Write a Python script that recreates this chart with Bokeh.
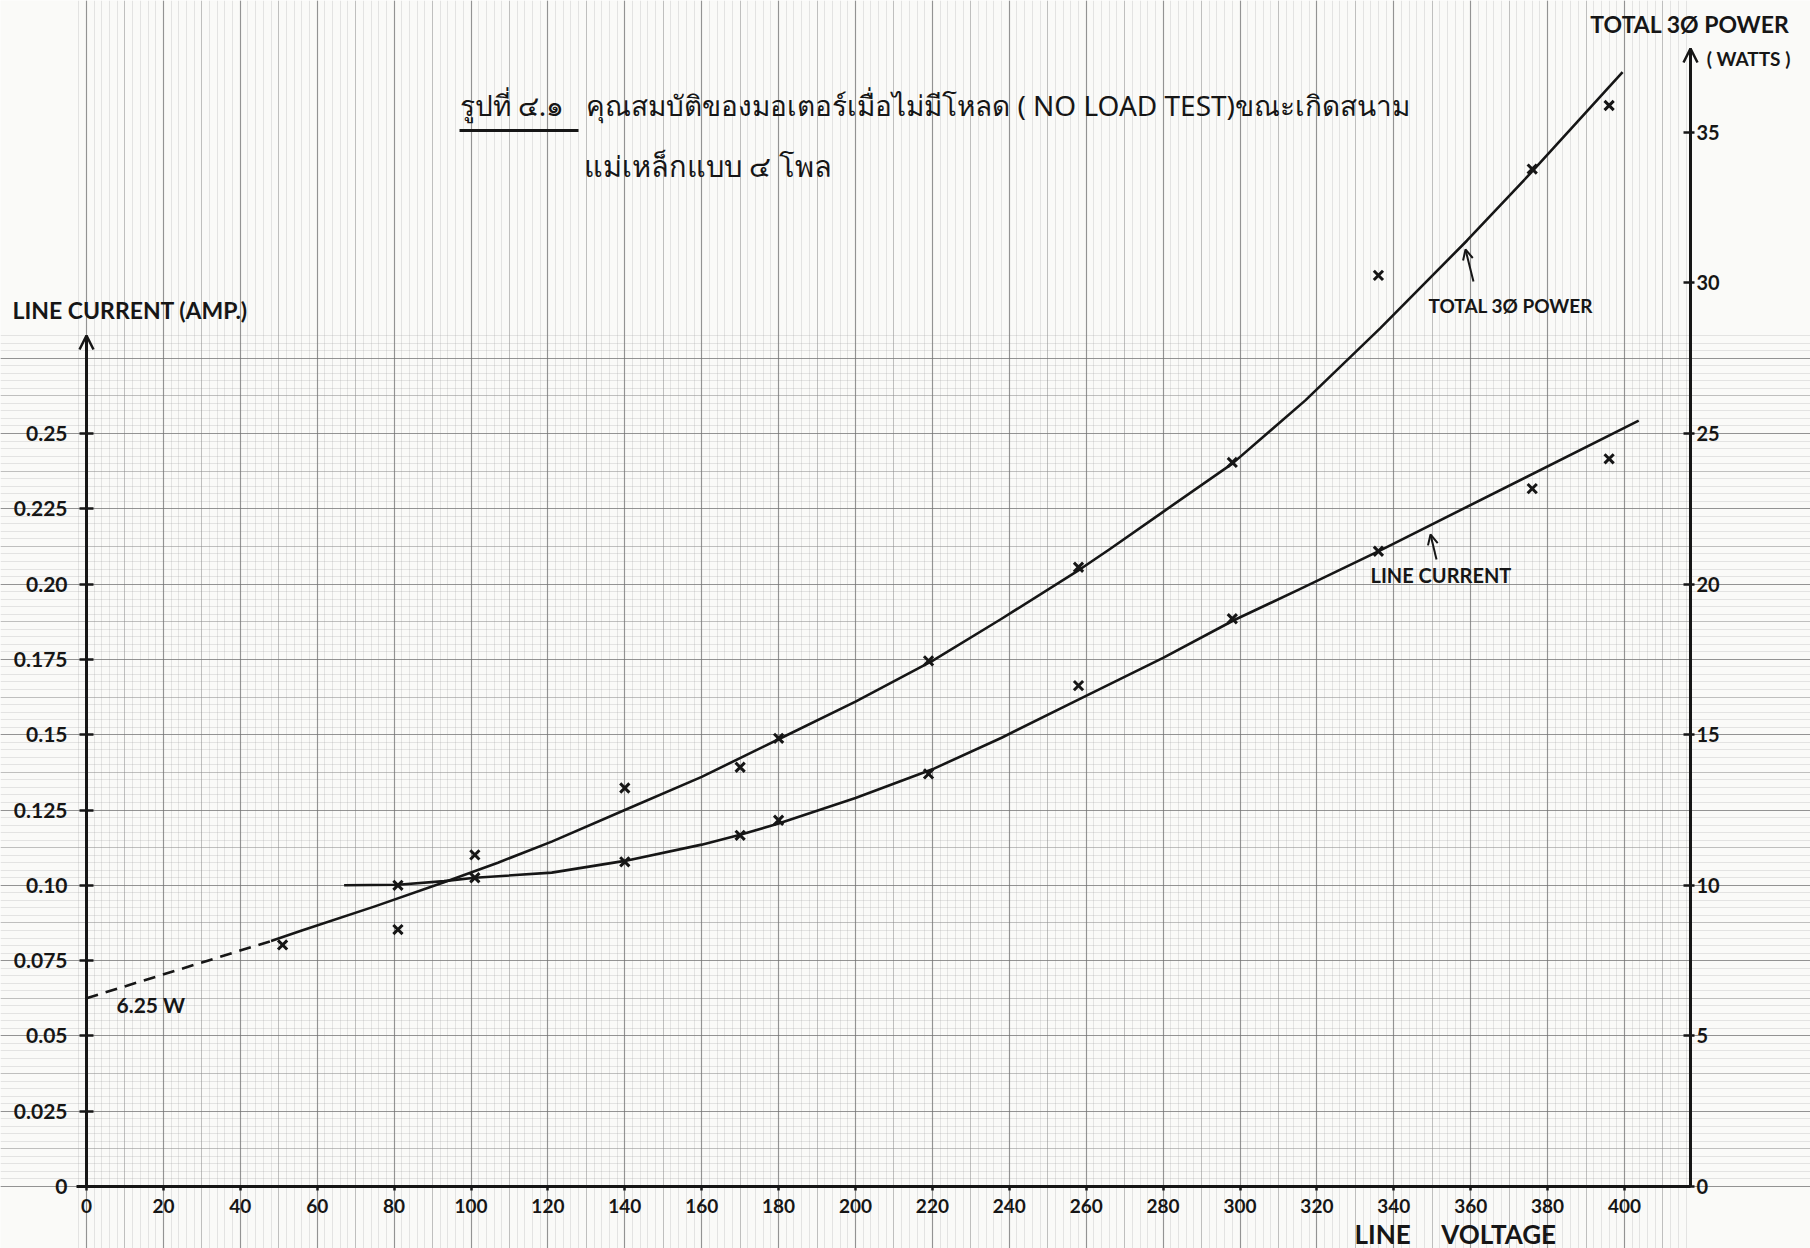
from bokeh.plotting import figure
from bokeh.models import (Range1d, LinearAxis, FixedTicker, SingleIntervalTicker, Grid,
                          Label, Arrow, OpenHead)
from bokeh.embed import file_html
from bokeh.resources import INLINE

# ---- measured data: no-load test, 4-pole field ----
volts = [51, 81, 101, 140, 170, 180, 219, 258, 298, 336, 376, 396]
line_current = [None, 0.100, 0.1025, 0.1078, 0.1166, 0.1216, 0.1370, 0.1663, 0.1885, 0.2109, 0.2317, 0.2416]
power_w = [8.02, 8.53, 11.01, 13.23, 13.92, 14.88, 17.45, 20.56, 24.04, 30.25, 33.78, 35.89]

# ---- hand-fitted curves ----
cur_fit_v = [67, 81, 93, 101, 121, 140, 160, 170, 180, 200, 220, 238, 258.5, 280, 298.4,
             315.7, 336.5, 403.7]
cur_fit_a = [0.100, 0.1002, 0.1014, 0.1025, 0.1042, 0.1081, 0.1135, 0.1168, 0.1205, 0.1290,
             0.1385, 0.1490, 0.1620, 0.1755, 0.1880, 0.1984, 0.2112, 0.2543]
pow_ext_v = [0, 48]          # dashed extrapolation to zero voltage
pow_ext_w = [6.25, 8.15]
pow_fit_v = [48, 56, 75, 93, 107, 121, 140, 160, 180, 200, 220, 238, 258.5, 266, 280, 298,
             317, 336.5, 359, 376, 399.5]
pow_fit_w = [8.15, 8.5, 9.3, 10.1, 10.75, 11.45, 12.5, 13.6, 14.85, 16.1, 17.45, 18.85,
             20.5, 21.15, 22.4, 24.0, 26.1, 28.5, 31.4, 33.7, 37.0]

x_ticks = list(range(0, 401, 20))
cur_ticks = [0, 0.025, 0.05, 0.075, 0.10, 0.125, 0.15, 0.175, 0.20, 0.225, 0.25]
cur_tick_labels = ["0", "0.025", "0.05", "0.075", "0.10", "0.125", "0.15", "0.175", "0.20", "0.225", "0.25"]
pow_ticks = [0, 5, 10, 15, 20, 25, 30, 35]

W, H = 1810, 1248
X0_PX, Y0_PX = 86, 1186          # canvas position of the origin
PX_PER_V, PX_PER_A = 3.845, 3012.0
RIGHT_AXIS_V = (1690 - X0_PX) / PX_PER_V
NBSP = "\u00a0"


def vx(px):
    return (px - X0_PX) / PX_PER_V


def ay(py):
    return (Y0_PX - py) / PX_PER_A


INK = "#161616"
HAND = "Lato"

p = figure(width=W, height=H, output_backend="svg", toolbar_location=None,
           x_range=Range1d(vx(0), vx(W)), y_range=Range1d(ay(H), ay(0)),
           x_axis_location=None, y_axis_location=None, min_border=0)
p.extra_y_ranges = {"power": Range1d(ay(H) * 100, ay(0) * 100)}
p.center = [r for r in p.center if not isinstance(r, Grid)]
p.outline_line_color = None
p.background_fill_color = "#fafaf8"
p.border_fill_color = "#fafaf8"

# graph-paper ruling: fine, medium and heavy lines
for iv, ia, col, alpha, lw in [(2, 0.0025, "#a0a0a0", 0.25, 1),
                               (10, 0.0125, "#8a8a8a", 0.40, 1),
                               (20, 0.025, "#707070", 0.55, 1.2)]:
    p.add_layout(Grid(dimension=0, ticker=SingleIntervalTicker(interval=iv),
                      grid_line_color=col, grid_line_alpha=alpha, grid_line_width=lw))
    p.add_layout(Grid(dimension=1, ticker=SingleIntervalTicker(interval=ia),
                      grid_line_color=col, grid_line_alpha=alpha, grid_line_width=lw))


def style_axis(ax, size):
    ax.axis_line_color = INK
    ax.axis_line_width = 3
    ax.major_tick_line_color = INK
    ax.major_tick_line_width = 2.5
    ax.minor_tick_line_color = None
    ax.major_label_text_font = HAND
    ax.major_label_text_font_style = "bold"
    ax.major_label_text_font_size = size
    ax.major_label_text_color = INK


xaxis = LinearAxis(fixed_location=0, ticker=FixedTicker(ticks=x_ticks),
                   bounds=(vx(76), RIGHT_AXIS_V))
style_axis(xaxis, "19px")
xaxis.major_tick_in = 0
xaxis.major_tick_out = 4
xaxis.major_label_standoff = 8
p.add_layout(xaxis, "below")

yaxis = LinearAxis(fixed_location=0, ticker=FixedTicker(ticks=cur_ticks),
                   bounds=(0, ay(335)),
                   major_label_overrides={t: s for t, s in zip(cur_ticks, cur_tick_labels)})
style_axis(yaxis, "21px")
yaxis.major_tick_in = 7
yaxis.major_tick_out = 7
yaxis.major_label_standoff = 12
p.add_layout(yaxis, "left")

paxis = LinearAxis(fixed_location=RIGHT_AXIS_V, y_range_name="power",
                   ticker=FixedTicker(ticks=pow_ticks), bounds=(0, ay(48) * 100))
style_axis(paxis, "20px")
paxis.major_tick_in = 7
paxis.major_tick_out = 4
paxis.major_label_standoff = 2
p.add_layout(paxis, "right")

# arrow heads on the two vertical axes
p.add_layout(Arrow(end=OpenHead(size=14, line_width=2.5, line_color=INK),
                   x_start=0, y_start=ay(360), x_end=0, y_end=ay(335),
                   line_width=3, line_color=INK))
p.add_layout(Arrow(end=OpenHead(size=14, line_width=2.5, line_color=INK),
                   x_start=RIGHT_AXIS_V, y_start=ay(75), x_end=RIGHT_AXIS_V, y_end=ay(48),
                   line_width=3, line_color=INK))

# curves
p.line(cur_fit_v, cur_fit_a, line_color=INK, line_width=2.6, line_join="round")
p.line(pow_fit_v, pow_fit_w, y_range_name="power", line_color=INK, line_width=2.6,
       line_join="round")
p.line(pow_ext_v, pow_ext_w, y_range_name="power", line_color=INK, line_width=2.6,
       line_dash="12 8")

# measured points
cv = [v for v, a in zip(volts, line_current) if a is not None]
ca = [a for a in line_current if a is not None]
p.scatter(cv, ca, marker="x", size=13, line_width=3, line_color=INK)
p.scatter(volts, power_w, y_range_name="power", marker="x", size=13, line_width=3,
          line_color=INK)


def label(text, px, py, size, align="left", font=HAND, style="bold"):
    p.add_layout(Label(x=vx(px), y=ay(py), text=text, text_font=font,
                       text_font_style=style, text_font_size=size, text_color=INK,
                       text_align=align, text_baseline="middle"))


label("LINE CURRENT (AMP.)", 12, 309, "23px")
label("TOTAL 3\u00d8 POWER", 1789, 23, "23px", align="right")
label("( WATTS )", 1790, 58, "19px", align="right")
label("LINE" + NBSP * 5 + "VOLTAGE", 1354, 1233, "26px")
label("6.25 W", 116, 1004, "21px")
label("TOTAL 3\u00d8 POWER", 1428, 305, "19px")
label("LINE CURRENT", 1370, 574, "20px")

# caption
TITLE_FONT = "Noto Sans"
label("รูปที่ ๔.๑" + NBSP * 3 + "คุณสมบัติของมอเตอร์เมื่อไม่มีโหลด ( NO LOAD TEST)ขณะเกิดสนาม",
      459, 104, "28px", font=TITLE_FONT, style="normal")
label("แม่เหล็กแบบ ๔ โพล", 583, 165, "29px", font=TITLE_FONT, style="normal")
p.segment(x0=[vx(459)], y0=[ay(130)], x1=[vx(578)], y1=[ay(130)],
          line_color=INK, line_width=3)

# pointers to the curve labels
p.add_layout(Arrow(end=OpenHead(size=10, line_width=2, line_color=INK),
                   x_start=vx(1473), y_start=ay(281), x_end=vx(1465), y_end=ay(249),
                   line_width=2, line_color=INK))
p.add_layout(Arrow(end=OpenHead(size=10, line_width=2, line_color=INK),
                   x_start=vx(1436), y_start=ay(559), x_end=vx(1430), y_end=ay(534),
                   line_width=2, line_color=INK))

open("out.html", "w").write(file_html(p, INLINE))
